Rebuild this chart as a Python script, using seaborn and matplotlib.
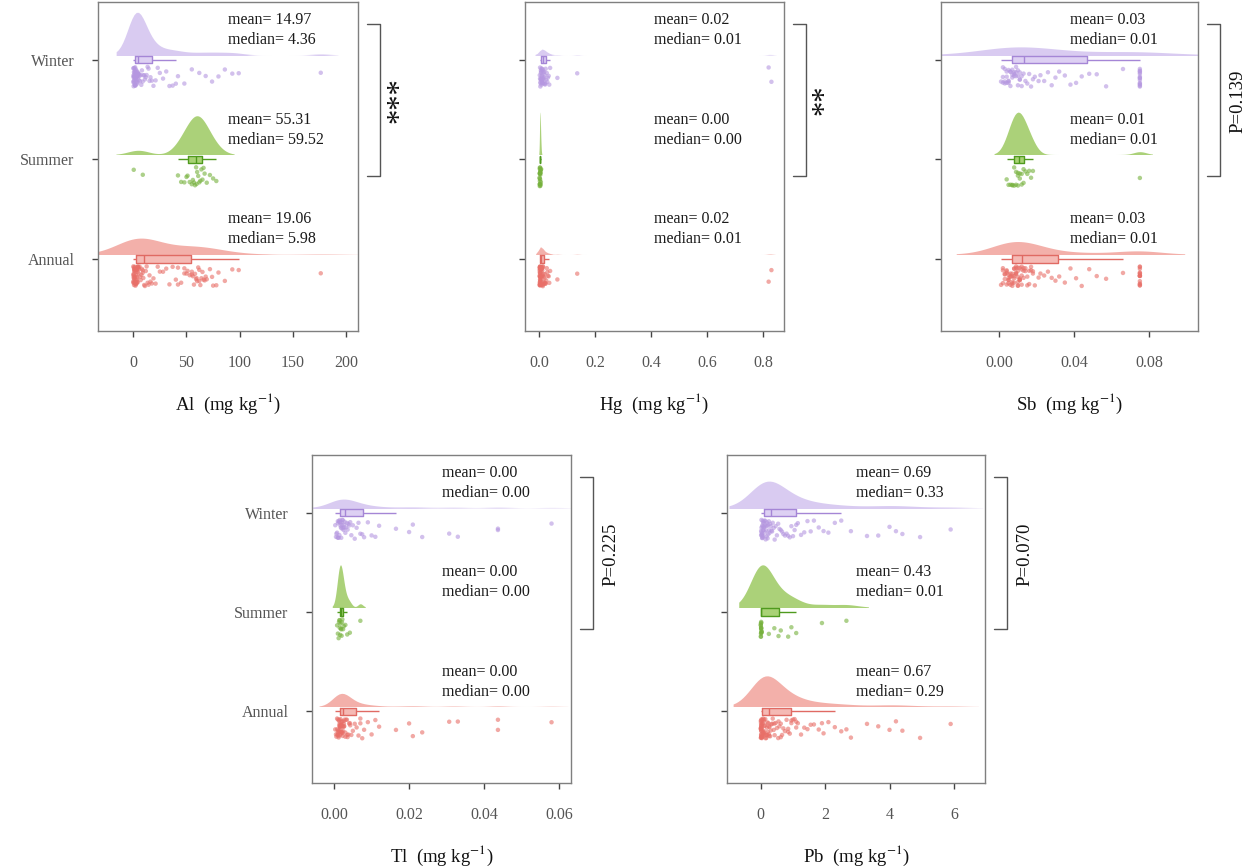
import numpy as np
import pandas as pd
import matplotlib
matplotlib.use("Agg")
import matplotlib.pyplot as plt
import matplotlib.transforms as mtransforms
from matplotlib.patches import Rectangle
import seaborn as sns

# --------------------------------------------------------------------------- #
# Data (mg kg-1)
# --------------------------------------------------------------------------- #
SEASONS = ["Winter", "Summer", "Annual"]

al_winter = [0.1, 0.2, 0.2, 0.3, 0.4, 0.5, 0.5, 0.6, 0.7, 0.8, 0.9, 1.0, 1.1, 1.2,
             1.3, 1.4, 1.5, 1.6, 1.7, 1.8, 1.9, 2.0, 2.1, 2.2, 2.4, 2.5, 2.6, 2.8,
             2.9, 3.0, 3.2, 3.3, 3.5, 3.6, 3.8, 3.9, 4.0, 4.1, 4.2, 4.3, 4.5, 4.8,
             5.2, 5.6, 6.0, 6.5, 7.0, 7.6, 8.2, 8.9, 9.5, 10.3, 11.0, 11.8, 12.6,
             13.5, 14.4, 15.3, 16.2, 17.5, 19, 21, 23, 25, 28, 31, 34, 37, 40, 42,
             48, 55, 62, 68, 74, 80, 86, 93, 99, 176]
al_summer = [0.5, 9, 42, 45, 48, 50, 51, 53, 55, 56, 57, 58, 59, 59.5, 60, 61, 62,
             63, 64, 65, 66, 67, 69, 72, 75, 78]

hg_winter = [0.001, 0.002, 0.002, 0.003, 0.003, 0.004, 0.004, 0.005, 0.005, 0.006,
             0.006, 0.007, 0.007, 0.008, 0.008, 0.009, 0.009, 0.010, 0.010, 0.011,
             0.011, 0.012, 0.012, 0.013, 0.014, 0.015, 0.016, 0.017, 0.018, 0.019,
             0.020, 0.021, 0.022, 0.024, 0.026, 0.028, 0.030, 0.033, 0.035, 0.038,
             0.064, 0.135, 0.82, 0.83]
hg_summer = [0.0003, 0.0005, 0.0006, 0.0008, 0.001, 0.001, 0.0012, 0.0014, 0.0015,
             0.0016, 0.0018, 0.002, 0.002, 0.0022, 0.0024, 0.0026, 0.0028, 0.003,
             0.0032, 0.0035, 0.0038, 0.004, 0.0045, 0.005, 0.006]

sb_winter = [0.001, 0.002, 0.002, 0.002, 0.003, 0.003, 0.003, 0.004, 0.004, 0.004,
             0.005, 0.005, 0.005, 0.005, 0.006, 0.006, 0.006, 0.007, 0.007, 0.007,
             0.008, 0.008, 0.008, 0.009, 0.009, 0.009, 0.010, 0.010, 0.010, 0.011,
             0.011, 0.011, 0.012, 0.012, 0.013, 0.014, 0.015, 0.016, 0.017, 0.018,
             0.019, 0.021, 0.022, 0.024, 0.026, 0.028, 0.030, 0.032, 0.035, 0.038,
             0.041, 0.044, 0.048, 0.052, 0.057, 0.066, 0.075, 0.075, 0.075, 0.075,
             0.075, 0.075, 0.075, 0.075, 0.075, 0.075, 0.075, 0.075, 0.075, 0.075]
sb_summer = [0.004, 0.005, 0.006, 0.007, 0.007, 0.008, 0.008, 0.009, 0.009, 0.010,
             0.010, 0.010, 0.011, 0.011, 0.012, 0.012, 0.013, 0.013, 0.014, 0.015,
             0.016, 0.017, 0.018, 0.075]

tl_winter = [0.0003, 0.0005, 0.0006, 0.0008, 0.0009, 0.001, 0.001, 0.0011, 0.0012,
             0.0013, 0.0014, 0.0015, 0.0015, 0.0016, 0.0017, 0.0018, 0.0019, 0.002,
             0.002, 0.0021, 0.0022, 0.0023, 0.0024, 0.0025, 0.0026, 0.0027, 0.0028,
             0.003, 0.0032, 0.0034, 0.0036, 0.0038, 0.004, 0.0043, 0.0046, 0.005,
             0.0055, 0.006, 0.0065, 0.007, 0.0075, 0.008, 0.009, 0.010, 0.011, 0.012,
             0.0165, 0.020, 0.021, 0.0235, 0.0307, 0.033, 0.0437, 0.0437, 0.058]
tl_summer = [0.0008, 0.001, 0.0012, 0.0013, 0.0014, 0.0015, 0.0015, 0.0016, 0.0017,
             0.0018, 0.0019, 0.002, 0.0021, 0.0022, 0.0024, 0.0026, 0.003, 0.0035,
             0.0042, 0.007]

pb_winter = [0.01, 0.01, 0.02, 0.02, 0.02, 0.03, 0.03, 0.04, 0.04, 0.05, 0.05, 0.05,
             0.06, 0.06, 0.07, 0.07, 0.08, 0.08, 0.09, 0.10, 0.10, 0.11, 0.12, 0.13,
             0.14, 0.15, 0.16, 0.17, 0.18, 0.19, 0.20, 0.21, 0.22, 0.23, 0.25, 0.26,
             0.27, 0.29, 0.31, 0.33, 0.35, 0.37, 0.40, 0.43, 0.46, 0.50, 0.54, 0.58,
             0.62, 0.66, 0.70, 0.75, 0.80, 0.85, 0.90, 0.95, 1.00, 1.05, 1.10, 1.15,
             1.25, 1.35, 1.45, 1.55, 1.65, 1.80, 1.95, 2.10, 2.30, 2.50, 2.80, 3.30,
             3.65, 4.00, 4.20, 4.40, 4.95, 5.90]
pb_summer = [0.0, 0.0, 0.0, 0.0, 0.005, 0.005, 0.01, 0.01, 0.01, 0.01, 0.01, 0.01,
             0.015, 0.02, 0.02, 0.03, 0.25, 0.42, 0.55, 0.62, 0.85, 0.95, 1.1, 1.9, 2.66]

# printed summary statistics (winter, summer, annual)
al_stats = [(14.97, 4.36), (55.31, 59.52), (19.06, 5.98)]
hg_stats = [(0.02, 0.01), (0.00, 0.00), (0.02, 0.01)]
sb_stats = [(0.03, 0.01), (0.01, 0.01), (0.03, 0.01)]
tl_stats = [(0.00, 0.00), (0.00, 0.00), (0.00, 0.00)]
pb_stats = [(0.69, 0.33), (0.43, 0.01), (0.67, 0.29)]

elements = ["Al", "Hg", "Sb", "Tl", "Pb"]
significance = ["***", "**", "P=0.139", "P=0.225", "P=0.070"]
x_ticks = [[0, 50, 100, 150, 200], [0, 0.2, 0.4, 0.6, 0.8], [0, 0.04, 0.08],
           [0, 0.02, 0.04, 0.06], [0, 2, 4, 6]]
x_ticklabels = [["0", "50", "100", "150", "200"], ["0.0", "0.2", "0.4", "0.6", "0.8"],
                ["0.00", "0.04", "0.08"], ["0.00", "0.02", "0.04", "0.06"],
                ["0", "2", "4", "6"]]

# --------------------------------------------------------------------------- #
# Styling
# --------------------------------------------------------------------------- #
VIOLIN_COLORS = {"Winter": "#D7C9F1", "Summer": "#A7CF72", "Annual": "#F3ACA6"}
POINT_COLORS = {"Winter": "#B597E0", "Summer": "#76B13C", "Annual": "#E86F68"}
BOX_FILL = {"Winter": "#DDD0F3", "Summer": "#A9D276", "Annual": "#F5B9B4"}
BOX_EDGE = {"Winter": "#A586D6", "Summer": "#4F9A1E", "Annual": "#E06A63"}
SPINE = "#7F7F7F"

sns.set_theme(style="white")
plt.rcParams["font.family"] = ["Liberation Serif", "DejaVu Serif"]
plt.rcParams["mathtext.fontset"] = "stix"

X_LIMS = [(-33, 211), (-0.052, 0.875), (-0.031, 0.106), (-0.0059, 0.0632), (-1.05, 6.97)]
AX_RECTS = [
    (0.0783, 0.6178, 0.2077, 0.380),
    (0.4193, 0.6178, 0.2069, 0.380),
    (0.7516, 0.6178, 0.2053, 0.380),
    (0.2492, 0.0958, 0.2069, 0.3788),
    (0.5807, 0.0958, 0.2061, 0.3788),
]


def nrd0(kde):
    """Silverman's rule of thumb (as in R's bw.nrd0), as a scipy factor."""
    d = kde.dataset[0]
    sd = d.std(ddof=1)
    q75, q25 = np.percentile(d, [75, 25])
    lo = min(sd, (q75 - q25) / 1.34) if q75 > q25 else sd
    return 0.9 * lo / sd * len(d) ** -0.2


def long_frame(winter, summer):
    annual = winter + summer
    frames = [pd.DataFrame({"season": s, "value": v})
              for s, v in zip(SEASONS, [winter, summer, annual])]
    return pd.concat(frames, ignore_index=True)


def raincloud(ax, fig, df):
    pos = {s: i for i, s in enumerate(SEASONS)}
    up = mtransforms.ScaledTranslation(0, 0.05, fig.dpi_scale_trans)
    down = mtransforms.ScaledTranslation(0, -0.17, fig.dpi_scale_trans)
    blend = mtransforms.blended_transform_factory(ax.transAxes, ax.transData)

    # half violins (upper half only, lifted a little above the box)
    n0 = len(ax.collections)
    sns.violinplot(data=df, x="value", y="season", hue="season", order=SEASONS,
                   hue_order=SEASONS, palette=VIOLIN_COLORS, orient="h", inner=None,
                   linewidth=0, density_norm="area", common_norm=True, width=0.85,
                   saturation=1, bw_method=nrd0, bw_adjust=1.8, cut=2,
                   legend=False, ax=ax)
    for coll in ax.collections[n0:]:
        yc = coll.get_paths()[0].vertices[:, 1]
        p = round(float((yc.min() + yc.max()) / 2))
        clip = Rectangle((0, p - 1), 1, 1, transform=blend + up)
        coll.set_transform(coll.get_transform() + up)
        coll.set_clip_path(clip)
        coll.set_alpha(0.95)

    # boxes: light fill underneath, coloured outline on top
    box_kw = dict(data=df, x="value", y="season", hue="season", order=SEASONS,
                  hue_order=SEASONS, orient="h", width=0.075, showfliers=False,
                  legend=False, ax=ax, capprops={"linewidth": 0})
    sns.boxplot(palette=BOX_FILL, saturation=1, linewidth=0, **box_kw)
    sns.boxplot(palette=BOX_EDGE, fill=False, linewidth=1.0, **box_kw)

    # jittered raw points below the box
    n0 = len(ax.collections)
    sns.stripplot(data=df, x="value", y="season", hue="season", order=SEASONS,
                  hue_order=SEASONS, palette=POINT_COLORS, orient="h", size=3.2,
                  jitter=0.1, alpha=0.6, linewidth=0, legend=False, ax=ax)
    for coll in ax.collections[n0:]:
        coll.set_offset_transform(ax.transData + down)
    return pos, blend


np.random.seed(7)
fig = plt.figure(figsize=(12.52, 8.66), dpi=100)

datasets = [(al_winter, al_summer), (hg_winter, hg_summer), (sb_winter, sb_summer),
            (tl_winter, tl_summer), (pb_winter, pb_summer)]
stats = [al_stats, hg_stats, sb_stats, tl_stats, pb_stats]

for i, (elem, (w, s)) in enumerate(zip(elements, datasets)):
    ax = fig.add_axes(AX_RECTS[i])
    df = long_frame(w, s)
    pos, blend = raincloud(ax, fig, df)

    ax.set_xlim(*X_LIMS[i])
    ax.set_ylim(2.72, -0.58)
    ax.set_xticks(x_ticks[i])
    ax.set_xticklabels(x_ticklabels[i])
    ax.set_yticks(range(len(SEASONS)))
    ax.set_yticklabels(SEASONS if i in (0, 3) else [""] * 3)
    ax.set_ylabel("")
    ax.set_xlabel(f"{elem}  (mg kg$^{{-1}}$)", fontsize=13.5, color="#111111",
                  labelpad=15)
    ax.tick_params(axis="both", which="both", length=4, width=1, color="#444444",
                   labelcolor="#555555", labelsize=11.5, pad=13, left=True,
                   bottom=True)
    for sp in ax.spines.values():
        sp.set_color(SPINE)
        sp.set_linewidth(1.0)

    # mean / median annotation above each cloud
    for season, (m, md) in zip(SEASONS, stats[i]):
        p = pos[season]
        ax.text(0.5, p - 0.40, f"mean= {m:.2f}", transform=blend, fontsize=11.5,
                va="center", ha="left", color="#1a1a1a")
        ax.text(0.5, p - 0.20, f"median= {md:.2f}", transform=blend, fontsize=11.5,
                va="center", ha="left", color="#1a1a1a")

    # Winter-vs-Summer bracket
    x0, x1 = 1.035, 1.085
    ax.plot([x0, x1, x1, x0], [-0.36, -0.36, 1.17, 1.17], transform=blend,
            color="#555555", lw=1.0, clip_on=False)
    label = significance[i]
    if label.startswith("P"):
        ax.text(1.155, 0.42, label, transform=blend, rotation=90, fontsize=13.5,
                ha="center", va="center", color="#111111")
    else:
        ax.text(1.16, 0.40, label, transform=blend, rotation=90, fontsize=22,
                ha="center", va="center", color="#111111")

fig.savefig("out.png", dpi=100)
